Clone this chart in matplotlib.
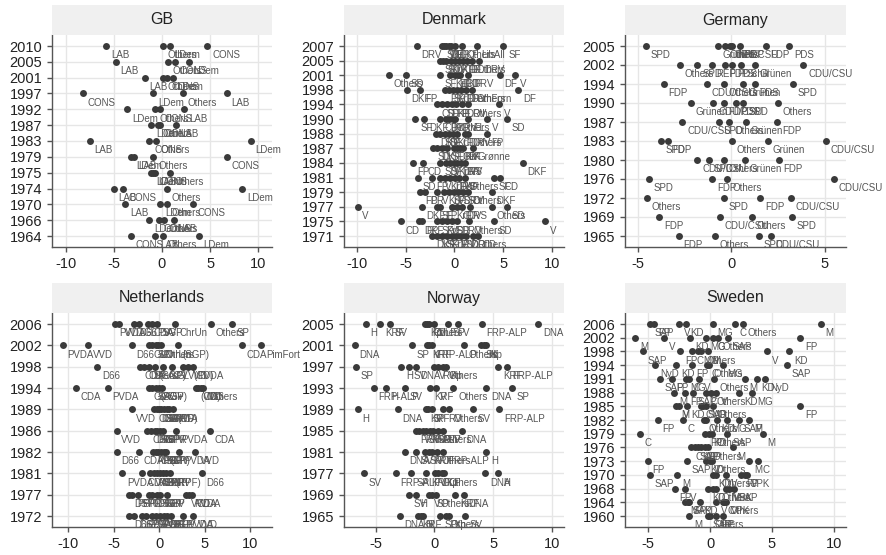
import numpy as np
import matplotlib
matplotlib.use("Agg")
from matplotlib import pyplot as plt

plt.rcParams['font.family'] = ['Liberation Sans', 'DejaVu Sans']
plt.rcParams['axes.unicode_minus'] = False

#%% Party positions per election (left/right shift), one list per election year
gb_years = [2010, 2005, 2001, 1997, 1992, 1987, 1983, 1979, 1975, 1974, 1970, 1966, 1964]
gb_parties = [
    ["LAB", "Others", "LDem", "CONS"],
    ["LAB", "Others", "CONS", "LDem"],
    ["LAB", "Others", "CONS", "LDem"],
    ["CONS", "LDem", "Others", "LAB"],
    ["LDem", "Others", "CONS", "LAB"],
    ["LDem", "Others", "CONS", "LAB"],
    ["LAB", "CONS", "Others", "LDem"],
    ["LDem", "LAB", "Others", "CONS"],
    ["LDem", "LAB", "CONS", "Others"],
    ["LAB", "CONS", "Others", "LDem"],
    ["LAB", "LDem", "Others", "CONS"],
    ["LDem", "CONS", "Others", "LAB"],
    ["CONS", "LAB", "Others", "LDem"],
]
gb_scores = [
    [-5.8, 0.1, 0.8, 4.7],
    [-4.8, 0.6, 1.3, 2.8],
    [-1.8, 0.1, 0.5, 1.1],
    [-8.2, -0.9, 2.2, 6.7],
    [-3.6, -0.7, -0.2, 2.3],
    [-1.1, -0.4, -0.2, 1.4],
    [-7.5, -1.3, -0.6, 9.2],
    [-3.2, -2.9, -0.9, 6.7],
    [-1.1, -0.9, -0.7, 0.8],
    [-5.0, -4.0, 0.5, 8.3],
    [-3.8, -0.2, 0.5, 3.2],
    [-1.3, -0.3, 0.2, 1.2],
    [-3.2, -0.7, 0.1, 3.8],
]

dk_years = [2007, 2005, 2001, 1998, 1994, 1990, 1988, 1987, 1984, 1981, 1979, 1977, 1975, 1971]
dk_parties = [
    ["DRV", "SD", "V", "DF", "KrF", "EL", "DKF", "Others", "LibAll", "SF"],
    ["SF", "SD", "KrF", "DKF", "V", "CD", "DF", "EL", "Others", "DRV"],
    ["Others", "SD", "SF", "KrF", "EL", "DKF", "CD", "DRV", "DF", "V"],
    ["DKF", "FP", "EL", "SF", "KrF", "CD", "DRV", "DemForn", "Others", "DF"],
    ["CD", "SF", "DKF", "FP", "EL", "DRV", "Others", "V"],
    ["SF", "DKF", "CD", "FP", "KrF", "DRV", "Others", "EL", "V", "SD"],
    ["DKF", "SD", "SF", "V", "KrF", "CD", "DRV", "Others", "FP"],
    ["SD", "DKF", "V", "SF", "DRV", "CD", "KrF", "FK", "Grønne"],
    ["FP", "CD", "SD", "SF", "V", "KrF", "DRV", "DR", "VS", "DKF"],
    ["SD", "FP", "V", "KrF", "DRV", "DKF", "VS", "Others", "SF", "CD"],
    ["FP", "DR", "V", "KrF", "SF", "VS", "DRV", "SD", "Others", "DKF"],
    ["V", "DKF", "SF", "FP", "KrF", "CD", "DR", "VS", "Others", "SD"],
    ["CD", "DKF", "FP", "SF", "KrF", "VS", "DR", "DRV", "Others", "SD", "V"],
    ["DKF", "VS", "SF", "KrF", "DRV", "V", "SD", "DR", "Others", "CD"],
]
dk_scores = [
    [-3.85, -1.3, -1.1, -0.9, -0.6, -0.4, 0.05, 0.75, 2.3, 5.0],
    [-1.45, -1.2, -0.85, -0.4, 0.1, 0.5, 0.9, 1.3, 1.75, 2.55],
    [-6.7, -5.0, -1.45, -0.45, 0.05, 0.35, 0.6, 1.4, 4.65, 6.2],
    [-4.9, -3.5, -0.95, -0.55, -0.15, 0.3, 0.7, 1.2, 1.75, 6.5],
    [-1.8, -1.3, -0.8, -0.3, 0.2, 0.75, 1.4, 4.55],
    [-4.0, -3.1, -1.5, -0.9, -0.6, -0.2, 0.1, 1.4, 3.3, 5.35],
    [-1.9, -1.5, -1.0, -0.6, -0.2, 0.3, 1.1, 1.4, 3.3],
    [-2.2, -1.8, -1.3, -0.8, -0.1, 0.3, 0.6, 0.9, 1.9],
    [-4.25, -3.2, -1.5, -0.9, -0.5, -0.1, 0.3, 0.7, 1.1, 7.0],
    [-3.75, -2.3, -1.45, -0.95, -0.45, 0.05, 0.5, 1.1, 4.0, 4.65],
    [-3.5, -3.0, -1.75, -1.1, -0.6, -0.1, 0.4, 0.9, 1.4, 3.8],
    [-9.9, -3.35, -1.8, -1.45, -0.3, 0.3, 0.75, 1.6, 3.8, 5.35],
    [-5.45, -3.6, -3.35, -1.8, -1.3, -0.8, -0.3, 0.25, 1.45, 4.0, 9.25],
    [-2.3, -1.8, -1.3, -0.8, -0.3, 0.2, 0.7, 1.2, 1.9, 2.4],
]

de_years = [2005, 2002, 1994, 1990, 1987, 1983, 1980, 1976, 1972, 1969, 1965]
de_parties = [
    ["SPD", "Grünen", "Others", "CDU/CSU", "NPD", "REP", "FDP", "PDS"],
    ["Others", "SPD", "REP", "FDP", "PDS", "Schill", "Grünen", "CDU/CSU"],
    ["FDP", "CDU/CSU", "Others", "Grünen", "PDS", "SPD"],
    ["Grünen", "CDU/CSU", "FDP", "PDS", "SPD", "Others"],
    ["CDU/CSU", "SPD", "Others", "Grünen", "FDP"],
    ["SPD", "FDP", "Others", "Grünen", "CDU/CSU"],
    ["CDU/CSU", "SPD", "Others", "Grünen", "FDP"],
    ["SPD", "FDP", "Others", "CDU/CSU"],
    ["Others", "SPD", "FDP", "CDU/CSU"],
    ["FDP", "CDU/CSU", "Others", "SPD"],
    ["FDP", "Others", "SPD", "CDU/CSU"],
]
de_scores = [
    [-4.55, -0.7, -0.35, -0.05, 0.05, 0.45, 1.85, 3.1],
    [-2.75, -1.8, -1.05, -0.35, 0.05, 0.55, 1.25, 3.85],
    [-3.6, -1.3, -0.4, 0.65, 1.25, 3.3],
    [-2.15, -0.95, -0.4, 0.25, 0.65, 2.5],
    [-2.6, -0.65, -0.1, 0.8, 2.45],
    [-3.75, -3.4, 0.05, 1.95, 5.05],
    [-1.8, -1.2, -0.4, 0.75, 2.55],
    [-4.4, -1.0, -0.2, 5.5],
    [-4.5, -0.4, 1.55, 3.2],
    [-3.85, -0.6, 1.1, 3.25],
    [-2.8, -0.85, 1.5, 2.1],
]

nl_years = [2006, 2002, 1998, 1994, 1989, 1986, 1982, 1981, 1977, 1972]
nl_parties = [
    ["PVDA", "VVD", "D66", "GL", "CDA", "PVV", "SGP", "ChrUn", "Others", "SP"],
    ["PVDA", "VVD", "D66", "GL", "SP", "LN", "ChrUn", "Others", "(SGP)", "CDA", "PimFort"],
    ["D66", "CDA", "Others", "SP", "(SGP)", "AOV", "GL", "VVD", "(CD)", "PVDA"],
    ["CDA", "PVDA", "GL", "SP", "(SGP)", "AOV", "55+", "(CD)", "VVD", "D66", "Others"],
    ["VVD", "CDA", "D66", "GL", "SGP", "GPV", "PVDA", "RPF", "(CD)"],
    ["VVD", "CPN", "D66", "SGP", "PSP", "GPV", "PPR", "PVDA", "CDA"],
    ["D66", "CDA", "PPR", "CPN", "PSP", "SGP", "GPV", "(CP)", "PVDA", "VVD"],
    ["PVDA", "CDA", "VVD", "PSP", "CPN", "PPR", "SGP", "GPV", "(RPF)", "D66"],
    ["DS70", "PSP", "PPR", "CPN", "D66", "SGP", "GPV", "BP", "VVD", "PVDA", "CDA"],
    ["D66", "DS70", "PPR", "PSP", "CPN", "KVP", "ARP", "CHU", "SGP", "GPV", "PVDA", "VVD"],
]
nl_scores = [
    [-4.9, -4.45, -2.75, -2.2, -1.2, -0.75, -0.2, 1.75, 5.65, 7.95],
    [-10.6, -7.8, -3.05, -1.1, -0.75, -0.4, -0.1, 0.2, 2.05, 9.1, 11.2],
    [-6.8, -2.1, -1.7, -1.1, -0.5, 0.4, 1.4, 2.6, 3.2, 3.7],
    [-9.2, -5.65, -1.1, -0.75, -0.35, 0.0, 0.35, 4.0, 4.3, 4.6, 4.85],
    [-3.05, -0.55, -0.3, -0.05, 0.2, 0.5, 0.8, 1.1, 1.5],
    [-4.7, -1.3, -0.9, -0.5, -0.2, 0.1, 0.4, 1.85, 5.55],
    [-4.7, -2.2, -0.7, -0.4, -0.1, 0.2, 0.5, 0.75, 2.2, 3.95],
    [-4.05, -1.85, -1.0, -0.6, -0.25, 0.1, 0.4, 0.75, 1.2, 4.7],
    [-3.3, -2.95, -2.35, -1.1, -0.75, -0.25, 0.1, 0.9, 2.95, 3.3, 3.6],
    [-3.3, -2.75, -1.85, -1.5, -0.75, -0.35, 0.1, 0.5, 0.9, 1.3, 2.6, 3.7],
]

no_years = [2005, 2001, 1997, 1993, 1989, 1985, 1981, 1977, 1969, 1965]
no_parties = [
    ["H", "KRF", "SV", "Kp", "RV", "Others", "DLF", "SP", "V", "FRP-ALP", "DNA"],
    ["DNA", "SP", "KRF", "V", "FRP-ALP", "Others", "SV", "H", "Kp"],
    ["SP", "H", "SV", "DNA", "V", "RV", "Others", "Kp", "KRF", "FRP-ALP"],
    ["FRP-ALP", "H", "SV", "KRF", "V", "Others", "DNA", "SP"],
    ["H", "DNA", "KRF", "SP", "V", "RV", "Others", "SV", "FRP-ALP"],
    ["FRP-ALP", "V", "SV", "KRF", "H", "SP", "Others", "RV", "DNA"],
    ["DNA", "SV", "SP", "KRF", "V", "Others", "FRP-ALP", "H"],
    ["SV", "FRP-ALP", "SP", "KRF", "V", "DLF", "Kp", "Others", "DNA", "H"],
    ["SV", "H", "V", "SP", "Others", "KRF", "DNA"],
    ["DNA", "KRF", "H", "V", "SP", "Others", "Kp", "SV"],
]
no_scores = [
    [-5.85, -4.6, -3.75, -0.8, -0.6, -0.45, -0.05, 1.15, 2.0, 4.0, 8.8],
    [-6.75, -1.9, -0.6, -0.45, -0.25, 2.5, 3.95, 4.2, 4.35],
    [-6.65, -2.8, -2.2, -1.6, -0.05, 0.3, 0.75, 0.95, 5.4, 6.2],
    [-5.15, -4.1, -2.5, -0.4, 0.1, 1.6, 4.4, 6.55],
    [-6.5, -3.1, -0.75, -0.55, -0.25, 0.75, 1.25, 3.3, 5.5],
    [-1.6, -1.3, -1.0, -0.7, -0.4, -0.1, 0.3, 0.7, 2.3],
    [-2.5, -1.6, -0.8, -0.5, -0.2, 0.2, 0.75, 4.4],
    [-6.0, -3.3, -1.95, -0.7, 0.05, 0.3, 0.6, 0.8, 4.3, 5.4],
    [-2.15, -1.6, -0.45, -0.25, 0.15, 1.75, 2.5],
    [-2.95, -1.4, -1.15, -0.95, 0.45, 1.0, 1.25, 2.6],
]

se_years = [2006, 2002, 1998, 1994, 1991, 1988, 1985, 1982, 1979, 1976, 1973, 1970, 1968, 1964, 1960]
se_parties = [
    ["SAP", "FP", "V", "KD", "MG", "C", "Others", "M"],
    ["M", "V", "KD", "MG", "C", "Others", "SAP", "FP"],
    ["SAP", "FP", "C", "MG", "Others", "M", "V", "KD"],
    ["NyD", "KD", "FP", "C", "Others", "MG", "SAP"],
    ["SAP", "FP", "MG", "C", "V", "Others", "M", "KD", "NyD"],
    ["M", "FP", "SAP", "C", "Others", "V", "KD", "MG"],
    ["M", "V", "KD", "C", "SAP", "MG", "Others", "FP"],
    ["FP", "C", "Others", "V", "KD", "MG", "SAP", "M"],
    ["C", "FP", "KD", "Others", "SAP", "M"],
    ["C", "SAP", "KD", "V", "FP", "Others", "M"],
    ["FP", "SAP", "KD", "V", "Others", "M", "C"],
    ["SAP", "M", "KD", "Others", "V", "FP", "C", "VPK"],
    ["FP", "V", "KD", "C", "Others", "M", "VPK", "SAP"],
    ["M", "SAP", "FP", "KD", "V", "C", "Others", "VPK"],
    ["M", "SAP", "Others", "FP", "C"],
]
se_scores = [
    [-4.85, -4.55, -2.5, -1.95, 0.2, 2.0, 2.65, 8.95],
    [-6.05, -3.7, -1.6, -0.35, 0.2, 0.6, 1.45, 7.3],
    [-5.4, -2.4, -1.45, -0.95, -0.7, -0.2, 4.6, 6.4],
    [-4.45, -2.75, -1.5, -0.25, -0.1, 1.0, 6.2],
    [-4.05, -3.1, -1.95, -1.7, -0.9, 0.35, 2.8, 3.75, 4.45],
    [-2.9, -2.0, -1.4, -0.35, 0.1, 0.5, 2.35, 3.4],
    [-2.75, -2.55, -1.9, -0.75, -0.55, -0.3, 0.2, 7.3],
    [-4.25, -2.2, -0.5, -0.35, 0.55, 1.35, 2.35, 3.15],
    [-5.7, -0.4, -0.1, 0.15, 1.4, 4.25],
    [-1.55, -1.25, -1.0, -0.75, -0.45, -0.2, 1.85],
    [-5.05, -1.85, -0.35, -0.05, 0.15, 3.15, 3.85],
    [-4.85, -2.65, 0.25, 0.5, 1.3, 2.5, 2.8, 2.95],
    [-2.85, -2.0, -0.2, 0.2, 0.5, 1.3, 1.55, 1.9],
    [-2.0, -1.8, -1.7, -0.85, 0.5, 1.0, 1.15, 1.3],
    [-1.7, -0.15, -0.05, 0.5, 1.05],
]

#%% Panel layout (figure fractions) and per-panel x range
W, H = 887, 555
cols = [(52, 220), (344, 220), (625, 221)]
rows = [(35, 212), (313, 214)]   # top pixel, height of the plot area
strip_h = 30

panels = [
    ("GB", gb_years, gb_parties, gb_scores, (-11.4, 11.4), [-10, -5, 0, 5, 10]),
    ("Denmark", dk_years, dk_parties, dk_scores, (-11.3, 11.2), [-10, -5, 0, 5, 10]),
    ("Germany", de_years, de_parties, de_scores, (-5.67, 6.13), [-5, 0, 5]),
    ("Netherlands", nl_years, nl_parties, nl_scores, (-11.8, 12.4), [-10, -5, 0, 5, 10]),
    ("Norway", no_years, no_parties, no_scores, (-7.68, 11.0), [-5, 0, 5, 10]),
    ("Sweden", se_years, se_parties, se_scores, (-6.88, 10.98), [-5, 0, 5, 10]),
]

dot_col = '#3a3a3a'
txt_col = '#555555'
axis_col = '#555555'
grid_col = '#e6e6e6'

fig = plt.figure(figsize=(W / 100, H / 100), dpi=100)

for k, (name, years, parties, scores, xlim, xticks) in enumerate(panels):
    x0, w = cols[k % 3]
    top, h = rows[k // 3]
    ax = fig.add_axes([x0 / W, 1 - (top + h) / H, w / W, h / H])
    sax = fig.add_axes([x0 / W, 1 - top / H, w / W, strip_h / H])

    n = len(years)
    pad = 11 * (n - 1) / (h - 22)
    ax.set_ylim(-pad, n - 1 + pad)
    ax.set_xlim(*xlim)

    for i, (yr, labs, vals) in enumerate(zip(years, parties, scores)):
        y = n - 1 - i
        ax.axhline(y, color=grid_col, lw=1.0, zorder=0)
        ax.plot(vals, [y] * len(vals), 'o', ms=5, color=dot_col,
                markeredgewidth=0, zorder=3)
        for lab, v in zip(labs, vals):
            ax.annotate(lab, (v, y), xytext=(3.4, -6.6), textcoords='offset points',
                        ha='left', va='center', fontsize=7, color=txt_col, zorder=4)

    for xt in xticks:
        ax.axvline(xt, color=grid_col, lw=1.0, zorder=0)

    ax.set_yticks(range(n))
    ax.set_yticklabels([str(yr) for yr in years[::-1]])
    ax.set_xticks(xticks)
    ax.set_xticklabels([str(t) for t in xticks])
    ax.tick_params(axis='both', colors=axis_col, labelcolor='#222222',
                   labelsize=10.5, length=3.5, width=1.0)
    for side in ['top', 'right']:
        ax.spines[side].set_visible(False)
    for side in ['left', 'bottom']:
        ax.spines[side].set_color(axis_col)
        ax.spines[side].set_linewidth(1.0)
    ax.set_facecolor('white')

    # facet strip
    sax.set_facecolor('#f0f0f0')
    sax.set_xticks([])
    sax.set_yticks([])
    for sp in sax.spines.values():
        sp.set_visible(False)
    sax.text(0.5, 0.5, name, ha='center', va='center', fontsize=11.5,
             color='#222222', transform=sax.transAxes)

fig.savefig('out.png', dpi=100)
